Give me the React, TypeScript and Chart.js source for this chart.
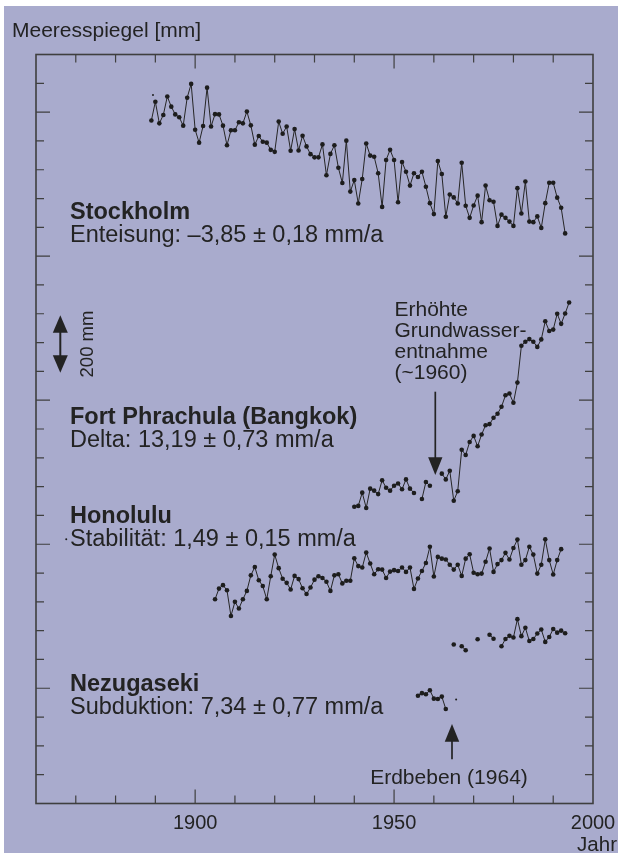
import React, { useEffect, useRef } from "react";
import { Chart, registerables } from "chart.js";

Chart.register(...registerables);

// ---- data (sea level, mm, stations offset vertically as in the figure) ----
const stockholmStart = 1889;
const stockholmValues = [
  2371, 2436, 2361, 2390, 2454, 2419, 2392, 2382, 2353, 2450,
  2498, 2339, 2294, 2352, 2485, 2350, 2393, 2392, 2353, 2285,
  2337, 2337, 2365, 2361, 2402, 2354, 2287, 2317, 2297, 2294,
  2269, 2262, 2367, 2325, 2350, 2266, 2341, 2267, 2318, 2281,
  2254, 2243, 2243, 2288, 2181, 2255, 2285, 2207, 2154, 2301,
  2124, 2164, 2083, 2168, 2291, 2249, 2245, 2188, 2071, 2234,
  2269, 2234, 2087, 2227, 2193, 2145, 2188, 2175, 2193, 2141,
  2084, 2046, 2230, 2185, 2037, 2114, 2104, 2083, 2224, 2075,
  2033, 2076, 2110, 2018, 2145, 2094, 2089, 2005, 2044, 2033,
  2020, 2005, 2136, 2048, 2159, 2020, 2018, 2038, 1998, 2084,
  2155, 2155, 2103, 2068, 1979,
];

const bangkokStart = 1940;
const bangkokValues = [
  1030, 1033, 1079, 1026, 1093, 1086, 1074, 1122, 1096, 1086,
  1103, 1111, 1091, 1125, 1093, 1078, null, 1057, 1116, 1103,
  null, null, 1145, 1125, 1155, 1051, 1084, 1228, 1210, 1255,
  1276, 1240, 1281, 1313, 1317, 1339, 1353, 1377, 1417, 1423,
  1391, 1461, 1589, 1603, 1612, 1603, 1585, 1611, 1674, 1640,
  1645, 1700, 1665, 1701, 1739,
];

const honoluluStart = 1905;
const honoluluValues = [
  709, 746, 758, 740, 651, 700, 677, 709, 738, 792,
  821, 775, 755, 709, 789, 864, 817, 780, 766, 743,
  790, 779, 747, 727, 750, 777, 789, 783, 770, 738,
  792, 796, 764, 773, 773, 851, 824, 819, 871, 833,
  796, 813, 812, 783, 805, 810, 807, 819, 804, 819,
  745, 781, 807, 835, 891, 788, 856, 850, 847, 829,
  812, 829, 790, 850, 865, 801, 796, 798, 839, 885,
  804, 831, 845, 870, 847, 887, 916, 829, 845, 891,
  864, 798, 829, 917, 845, 795, 845, 883,
];

const nezugasekiStart = 1956;
const nezugasekiValues = [
  374, 383, 379, 393, 364, 363, 371, 328, null, 552,
  null, 546, 532, null, null, 570, null, null, 586, 572,
  null, 546, 571, 582, 576, 640, 581, 610, 564, 571,
  590, 604, 561, 578, 606, 593, 600, 591,
];

const strayYears = [1867.6, 1889.4, 1965.6];
const strayValues = [917, 2459, 361];

const xTickLabels = [1900, 1950, 2000];
const xMinorTicks = [1870, 1880, 1890, 1900, 1910, 1920, 1930, 1940, 1950, 1960, 1970, 1980, 1990];
const xMajorTicks = [1900, 1950];
const yMinorTicks = [
  100, 200, 300, 400, 500, 600, 700, 800, 900, 1000, 1100, 1200, 1300,
  1400, 1500, 1600, 1700, 1800, 1900, 2000, 2100, 2200, 2300, 2400, 2500,
];
const yMajorTicks = [400, 900, 1400, 1900, 2400];

// ---- style ----
const BG = "#a9abcd";
const INK = "#232323";
const FRAME = "#3f3f3f";
const FONT = '"Liberation Sans", Arial, sans-serif';

const toPoints = (start: number, values: (number | null)[]) =>
  values.map((v, i) => ({ x: start + i, y: v }));

function fillTri(ctx: CanvasRenderingContext2D, x: number, tipY: number, baseY: number, w: number) {
  ctx.beginPath();
  ctx.moveTo(x, tipY);
  ctx.lineTo(x - w / 2, baseY);
  ctx.lineTo(x + w / 2, baseY);
  ctx.closePath();
  ctx.fill();
}

const decorPlugin = {
  id: "decor",
  beforeDraw(chart: any) {
    const { ctx, width, height } = chart;
    ctx.save();
    ctx.fillStyle = "#ffffff";
    ctx.fillRect(0, 0, width, height);
    ctx.fillStyle = BG;
    ctx.fillRect(4, 6, width - 4, height - 8);
    ctx.restore();
  },
  afterDraw(chart: any) {
    const { ctx, chartArea } = chart;
    const xs = chart.scales.x;
    const ys = chart.scales.y;
    const { left, right, top, bottom } = chartArea;
    ctx.save();

    // frame
    ctx.strokeStyle = FRAME;
    ctx.lineWidth = 1.6;
    ctx.strokeRect(left, top, right - left, bottom - top);

    // ticks
    ctx.lineWidth = 1.2;
    ctx.beginPath();
    xMinorTicks.forEach((t) => {
      const px = xs.getPixelForValue(t);
      const len = xMajorTicks.includes(t) ? 14 : 8;
      ctx.moveTo(px, bottom);
      ctx.lineTo(px, bottom - len);
      ctx.moveTo(px, top);
      ctx.lineTo(px, top + len);
    });
    yMinorTicks.forEach((t) => {
      const py = ys.getPixelForValue(t);
      const len = yMajorTicks.includes(t) ? 14 : 8;
      ctx.moveTo(left, py);
      ctx.lineTo(left + len, py);
      ctx.moveTo(right, py);
      ctx.lineTo(right - len, py);
    });
    ctx.stroke();

    ctx.fillStyle = INK;
    ctx.textBaseline = "alphabetic";

    // x tick labels
    ctx.font = `20px ${FONT}`;
    ctx.textAlign = "center";
    xTickLabels.forEach((t) => {
      ctx.fillText(String(t), xs.getPixelForValue(t), 829);
    });
    ctx.textAlign = "right";
    ctx.font = `20.5px ${FONT}`;
    ctx.fillText("Jahr", 617, 851);

    // y title
    ctx.textAlign = "left";
    ctx.font = `21px ${FONT}`;
    ctx.fillText("Meeresspiegel [mm]", 12, 37);

    // station labels
    const stations: [string, string, number][] = [
      ["Stockholm", "Enteisung: \u20133,85 \u00b1 0,18 mm/a", 219],
      ["Fort Phrachula (Bangkok)", "Delta: 13,19 \u00b1 0,73 mm/a", 424],
      ["Honolulu", "Stabilit\u00e4t: 1,49 \u00b1 0,15 mm/a", 523],
      ["Nezugaseki", "Subduktion: 7,34 \u00b1 0,77 mm/a", 690.5],
    ];
    stations.forEach(([title, sub, base]) => {
      ctx.font = `bold 23.5px ${FONT}`;
      ctx.fillText(title, 70, base);
      ctx.font = `23.5px ${FONT}`;
      ctx.fillText(sub, 70, base + 23);
    });

    // groundwater note
    ctx.font = `21px ${FONT}`;
    ["Erh\u00f6hte", "Grundwasser-", "entnahme", "(~1960)"].forEach((line, i) => {
      ctx.fillText(line, 394.5, 316 + i * 21.1);
    });

    // earthquake note
    ctx.textAlign = "center";
    ctx.fillText("Erdbeben (1964)", 449, 784);

    // 200 mm scale arrow
    const ax = 60.3;
    const aTop = ys.getPixelForValue(1695);
    const aBot = ys.getPixelForValue(1495);
    ctx.strokeStyle = INK;
    ctx.lineWidth = 2;
    ctx.beginPath();
    ctx.moveTo(ax, aTop + 10);
    ctx.lineTo(ax, aBot - 10);
    ctx.stroke();
    fillTri(ctx, ax, aTop, aTop + 17.5, 15);
    fillTri(ctx, ax, aBot, aBot - 17.5, 15);
    ctx.save();
    ctx.translate(92.5, (aTop + aBot) / 2);
    ctx.rotate(-Math.PI / 2);
    ctx.textAlign = "center";
    ctx.font = `18.5px ${FONT}`;
    ctx.fillText("200 mm", 0, 0);
    ctx.restore();

    // Bangkok arrow (down)
    ctx.lineWidth = 1.7;
    ctx.beginPath();
    ctx.moveTo(435.3, 391.7);
    ctx.lineTo(435.3, 460);
    ctx.stroke();
    fillTri(ctx, 435.3, 475, 457.3, 14.3);

    // Nezugaseki arrow (up)
    ctx.beginPath();
    ctx.moveTo(452, 739);
    ctx.lineTo(452, 759.3);
    ctx.stroke();
    fillTri(ctx, 452, 724, 741.7, 14.5);

    ctx.restore();
  },
};

const lineStyle = {
  borderColor: "#262626",
  borderWidth: 1,
  pointRadius: 2.3,
  pointBackgroundColor: "#1d1d1d",
  pointBorderWidth: 0,
  spanGaps: false,
  tension: 0,
};

export default function App() {
  const canvasRef = useRef<HTMLCanvasElement | null>(null);

  useEffect(() => {
    document.body.style.margin = "0";
    const canvas = canvasRef.current;
    if (!canvas) return;
    const chart = new Chart(canvas, {
      type: "line",
      data: {
        datasets: [
          { label: "Stockholm", data: toPoints(stockholmStart, stockholmValues), ...lineStyle },
          { label: "Fort Phrachula (Bangkok)", data: toPoints(bangkokStart, bangkokValues), ...lineStyle },
          { label: "Honolulu", data: toPoints(honoluluStart, honoluluValues), ...lineStyle },
          { label: "Nezugaseki", data: toPoints(nezugasekiStart, nezugasekiValues), ...lineStyle },
          {
            label: "Einzelwerte",
            data: strayYears.map((x, i) => ({ x, y: strayValues[i] })),
            showLine: false,
            pointRadius: 1,
            pointBackgroundColor: "#1d1d1d",
            pointBorderWidth: 0,
          },
        ],
      } as any,
      options: {
        animation: false,
        responsive: false,
        devicePixelRatio: 1,
        layout: { padding: { left: 36, right: 25, top: 54.5, bottom: 51.5 } },
        plugins: { legend: { display: false }, tooltip: { enabled: false } },
        scales: {
          x: { type: "linear", min: 1860, max: 2000, display: false },
          y: { type: "linear", min: 0, max: 2600, display: false },
        },
      },
      plugins: [decorPlugin],
    });
    return () => chart.destroy();
  }, []);

  return (
    <div style={{ width: 618, height: 855, position: "relative" }}>
      <canvas ref={canvasRef} width={618} height={855} style={{ display: "block", width: 618, height: 855 }} />
    </div>
  );
}
